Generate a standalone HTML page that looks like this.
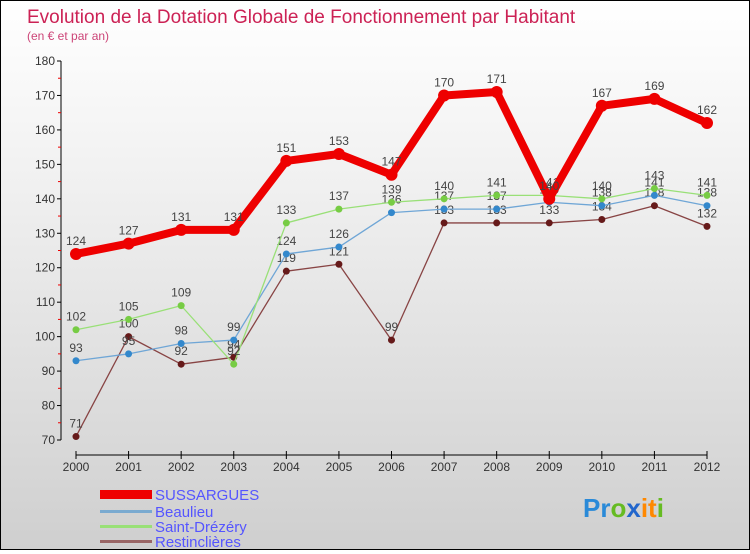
<!DOCTYPE html>
<html><head><meta charset="utf-8"><style>
body{margin:0;width:750px;height:550px;overflow:hidden;font-family:"Liberation Sans",sans-serif}
#wrap{position:relative;width:748px;height:548px;border:1px solid #000;background:linear-gradient(#ffffff,#f2f2f2 30%,#cfcfcf)}
svg text{font-family:"Liberation Sans",sans-serif}
</style></head><body>
<div id="wrap">
<svg id="c" width="748" height="548">
<text x="26" y="22" font-size="19" fill="#cc2255">Evolution de la Dotation Globale de Fonctionnement par Habitant</text>
<text x="26" y="39" font-size="12" fill="#cc4477">(en € et par an)</text>
<g id="g"></g>
<g>
<rect x="99" y="489" width="52" height="9" fill="#e00"/>
<text x="154" y="499" font-size="15" fill="#5555ff">SUSSARGUES</text>
<rect x="99" y="509" width="52" height="3" fill="#7aaad0"/>
<text x="154" y="516" font-size="15" fill="#5555ff">Beaulieu</text>
<rect x="99" y="524" width="52" height="3" fill="#99e077"/>
<text x="154" y="531" font-size="15" fill="#5555ff">Saint-Drézéry</text>
<rect x="99" y="539" width="52" height="3" fill="#996666"/>
<text x="154" y="546" font-size="15" fill="#5555ff">Restinclières</text>
</g>
<text x="582" y="516" font-size="26" font-weight="bold"><tspan fill="#2a8ad8">Pr</tspan><tspan fill="#66bb22">o</tspan><tspan fill="#2266cc">x</tspan><tspan fill="#ff8800">it</tspan><tspan fill="#66bb22">i</tspan></text>
</svg></div>
<script>
const years=["2000","2001","2002","2003","2004","2005","2006","2007","2008","2009","2010","2011","2012"];
const yTicks=[70,80,90,100,110,120,130,140,150,160,170,180];
const sussargues=[124,127,131,131,151,153,147,170,171,140,167,169,162];
const beaulieu=[93,95,98,99,124,126,136,137,137,139,138,141,138];
const saintDrezery=[102,105,109,92,133,137,139,140,141,141,140,143,141];
const restinclieres=[71,100,92,94,119,121,99,133,133,133,134,138,132];
const NS="http://www.w3.org/2000/svg",g=document.getElementById('g');
const xs=i=>75+i*(631/12);
const ys=v=>439-(v-70)*(379/110);
function mk(t,a,p){const e=document.createElementNS(NS,t);for(const k in a)e.setAttribute(k,a[k]);(p||g).appendChild(e);return e;}
let e=mk('line',{x1:60,y1:60,x2:60,y2:439,stroke:'#000'});


e=mk('line',{x1:75,y1:454,x2:706,y2:454,stroke:'#000'});


yTicks.forEach(v=>{const y=ys(v);
 mk('line',{x1:56,y1:y,x2:60,y2:y,stroke:'#000'});
 if(v<180) mk('line',{x1:57,y1:ys(v+5),x2:60,y2:ys(v+5),stroke:'#e00'});
 const t=mk('text',{x:54,y:y+4,'font-size':12,fill:'#333','text-anchor':'end'});t.textContent=v;
 
 
});
years.forEach((yr,i)=>{const x=xs(i);
 mk('line',{x1:x,y1:450,x2:x,y2:458,stroke:'#000'});
 const t=mk('text',{x:x,y:470,'font-size':12,fill:'#333','text-anchor':'middle'});t.textContent=yr;
 
 
});
function series(d,name,col,dot,w,r,fs){
 const s=mk('g',{});
 
 
 const p=mk('polyline',{points:d.map((v,i)=>xs(i)+','+ys(v)).join(' '),fill:'none',stroke:col,'stroke-width':w,'stroke-linejoin':'round'},s);
 
 
 d.forEach((v,i)=>{const c=mk('circle',{cx:xs(i),cy:ys(v),r:r,fill:dot},s);
  
  
  const t=mk('text',{x:xs(i),y:ys(v)-9,'font-size':fs,fill:'#444','text-anchor':'middle'},s);t.textContent=v;
  
  
 });
}
series(restinclieres,'restinclieres','#884444','#661a1a',1.3,3.5,12);
series(beaulieu,'beaulieu','#6fa6d6','#3388cc',1.3,3.5,12);
series(saintDrezery,'saint-drezery','#99e077','#77cc44',1.3,3.5,12);
series(sussargues,'sussargues','#ee0000','#ee0000',8,6,12);
</script>
</body></html>
